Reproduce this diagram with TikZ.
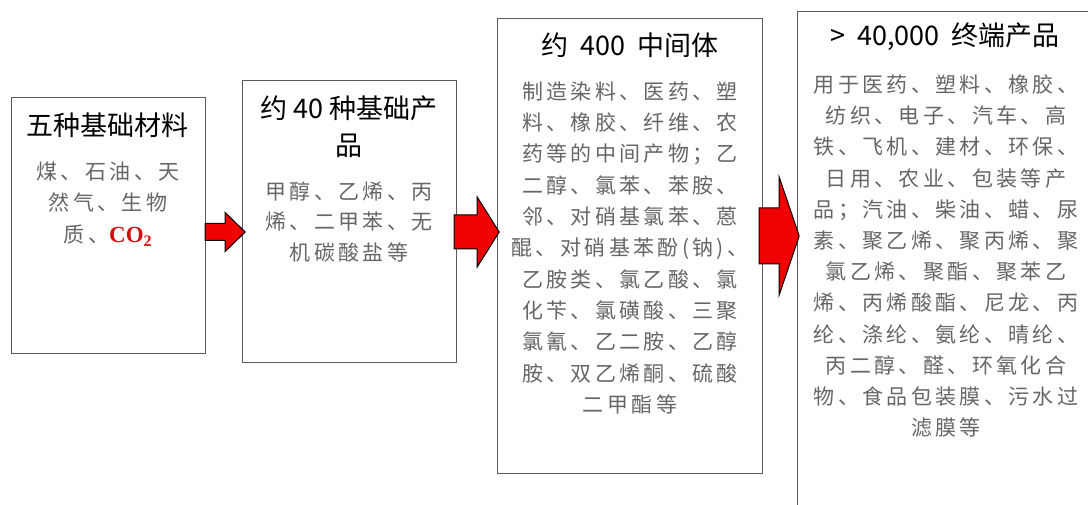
\documentclass[tikz,border=0pt]{standalone}
\usepackage{fontspec}
\usetikzlibrary{calc}
\newfontfamily\cjk{Noto Sans CJK SC}
\newfontfamily\cjkbody[LetterSpace=16]{Noto Sans CJK SC}
\newfontfamily\serifb{Liberation Serif}
\definecolor{boxgray}{HTML}{5A5A5A}
\definecolor{bodygray}{HTML}{666666}
\definecolor{arrowred}{HTML}{F00000}
\definecolor{co2red}{HTML}{D01010}
\begin{document}
\begin{tikzpicture}[x=1pt,y=1pt,
  box/.style={draw=boxgray, line width=1.2pt, fill=white, inner sep=0pt, anchor=south west},
  titletext/.style={inner sep=0pt, align=center, text=black, font=\cjk\fontsize{27}{37}\selectfont},
  bodytext/.style={inner sep=0pt, align=center, anchor=north, text=bodygray},
  barrow/.style={fill=arrowred, draw=black, line width=1pt, line join=miter}]
\useasboundingbox (0,0) rectangle (1088,504);
\clip (0,0) rectangle (1088,504);
\fill[white] (0,0) rectangle (1088,504);
% boxes
\node[box, minimum width=194pt, minimum height=256pt] (b1) at (11,150) {};
\node[box, minimum width=214pt, minimum height=282pt] (b2) at (242,141) {};
\node[box, minimum width=265pt, minimum height=455pt] (b3) at (497,30) {};
\node[box, minimum width=320pt, minimum height=530pt] (b4) at (797,-38) {};
% titles
\node[titletext] (t1) at (108,379) {五种基础材料};
\node[titletext] (t2) at (349,377.5) {约 40 种基础产\\品};
\node[titletext] (t3) at (630,459) {约\ \ 400\ \ 中间体};
\node[titletext] (t4) at (945,467) {>\ \ 40,000\ \ 终端产品};
% bodies
\node[bodytext, font=\cjkbody\fontsize{21}{31.5}\selectfont] (d1) at (108,342.5)
  {煤、石油、天\\然气、生物\\质、{\serifb\bfseries\fontsize{23}{31.5}\selectfont\color{co2red}CO\textsubscript{2}}};
\node[bodytext, font=\cjkbody\fontsize{21}{30.5}\selectfont] (d2) at (349,322.5)
  {甲醇、乙烯、丙\\烯、二甲苯、无\\机碳酸盐等};
\node[bodytext, font=\cjkbody\fontsize{21}{31.3}\selectfont] (d3) at (630,422.5)
  {制造染料、医药、塑\\料、橡胶、纤维、农\\药等的中间产物；乙\\二醇、氯苯、苯胺、\\邻、对硝基氯苯、蒽\\醌、对硝基苯酚(钠)、\\乙胺类、氯乙酸、氯\\化苄、氯磺酸、三聚\\氯氰、乙二胺、乙醇\\胺、双乙烯酮、硫酸\\二甲酯等};
\node[bodytext, font=\cjkbody\fontsize{21}{31.2}\selectfont] (d4) at (946,429.5)
  {用于医药、塑料、橡胶、\\纺织、电子、汽车、高\\铁、飞机、建材、环保、\\日用、农业、包装等产\\品；汽油、柴油、蜡、尿\\素、聚乙烯、聚丙烯、聚\\氯乙烯、聚酯、聚苯乙\\烯、丙烯酸酯、尼龙、丙\\纶、涤纶、氨纶、晴纶、\\丙二醇、醛、环氧化合\\物、食品包装膜、污水过\\滤膜等};
% block arrows between boxes
\coordinate (a1) at (b1.east |- 0,272);
\coordinate (a2) at (b2.east |- 0,272);
\coordinate (a3) at (b3.east |- 0,268);
\draw[barrow] ($(a1)+(-1,-8.5)$) -- ++(20,0) -- ++(0,-11) -- ($(a1)+(39,0)$) -- ($(a1)+(19,19.5)$) -- ++(0,-11) -- ($(a1)+(-1,8.5)$) -- cycle;
\draw[barrow] ($(a2)+(-3,-17)$) -- ++(23,0) -- ++(0,-18) -- ($(a2)+(42,0)$) -- ($(a2)+(20,35)$) -- ++(0,-18) -- ($(a2)+(-3,17)$) -- cycle;
\draw[barrow] ($(a3)+(-4,-28)$) -- ++(20,0) -- ++(0,-31) -- ($(a3)+(36,0)$) -- ($(a3)+(16,59)$) -- ++(0,-31) -- ($(a3)+(-4,28)$) -- cycle;
\end{tikzpicture}
\end{document}
